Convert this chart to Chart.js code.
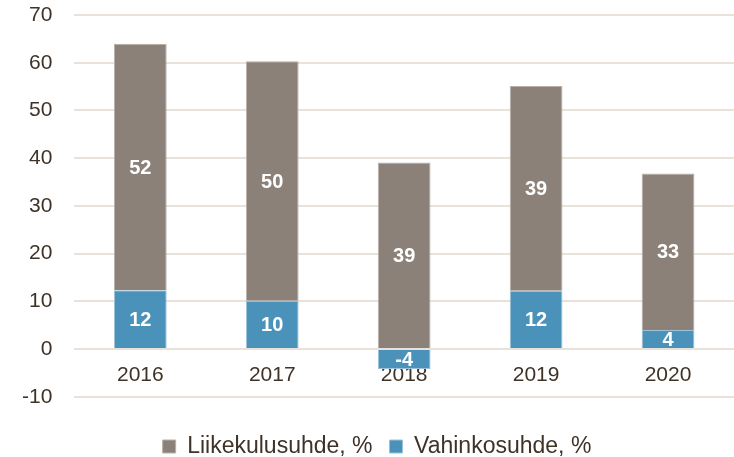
<!DOCTYPE html>
<html><head><meta charset="utf-8">
<script src="https://cdn.jsdelivr.net/npm/chart.js@4"></script>
<style>html,body{margin:0;padding:0;background:#fff}#w{width:734px;height:457px}</style>
</head><body><div id="w"><canvas id="c"></canvas></div>
<script>
const categories = ['2016','2017','2018','2019','2020'];
const liikekuluValues = [51.7, 50.2, 39.1, 42.9, 32.8];
const vahinkoValues = [12.3, 10.1, -4.2, 12.2, 4.0];
const liikekuluLabels = ['52','50','39','39','33'];
const vahinkoLabels = ['12','10','-4','12','4'];
const yTicks = [-10,0,10,20,30,40,50,60,70];

const textColor = '#3f3328';
const gridColor = '#e9e2db';
const FONT = '"Liberation Sans", Arial, sans-serif';

const labelPlugin = {
  id: 'segLabels',
  afterDatasetsDraw(chart) {
    const ctx = chart.ctx;
    ctx.save();
    ctx.fillStyle = '#ffffff';
    ctx.font = 'bold 20px ' + FONT;
    ctx.textAlign = 'center';
    ctx.textBaseline = 'middle';
    chart.data.datasets.forEach((ds, di) => {
      const meta = chart.getDatasetMeta(di);
      meta.data.forEach((bar, i) => {
        const p = bar.getProps(['x','y','base'], true);
        ctx.fillText(ds.segLabels[i], p.x, (p.y + p.base) / 2 + 1);
      });
    });
    ctx.restore();
  }
};

const legendShift = {
  id: 'legendShift',
  afterLayout(chart) {
    if (chart.legend) { chart.legend.left += 10; chart.legend.right += 10; }
  }
};

new Chart(document.getElementById('c'), {
  type: 'bar',
  data: {
    labels: categories,
    datasets: [
      { label: 'Vahinkosuhde, %', data: vahinkoValues, segLabels: vahinkoLabels,
        backgroundColor: '#4a92ba', borderColor: '#9cc3d9', borderWidth: 1 },
      { label: 'Liikekulusuhde, %', data: liikekuluValues, segLabels: liikekuluLabels,
        backgroundColor: '#8b8178', borderColor: '#b8b0a8', borderWidth: 1 }
    ]
  },
  options: {
    responsive: true, maintainAspectRatio: false, animation: false,
    layout: { padding: { top: 15, right: 0, left: 0, bottom: -11 } },
    datasets: { bar: { categoryPercentage: 1, barPercentage: 0.4 } },
    scales: {
      x: {
        stacked: true, position: { y: 0 }, z: 1,
        afterFit(axis) { axis.height = 0; },
        grid: { display: false }, border: { display: false },
        ticks: { color: textColor, font: { size: 21, family: FONT }, padding: 6 }
      },
      y: {
        stacked: true, min: -10, max: 70,
        afterBuildTicks(axis) { axis.ticks = yTicks.map(v => ({ value: v })); },
        afterFit(axis) { axis.paddingTop = 0; axis.paddingBottom = 0; },
        grid: { color: gridColor, lineWidth: 2, drawTicks: false },
        border: { display: false },
        ticks: { color: textColor, font: { size: 21, family: FONT }, padding: 22 }
      }
    },
    plugins: {
      tooltip: { enabled: false },
      legend: {
        position: 'bottom', reverse: true,
        title: { display: true, text: '', font: { size: 1 }, padding: { top: 20, bottom: 0 } },
        labels: { color: textColor, boxWidth: 13, boxHeight: 13, padding: 17,
          font: { size: 23, family: FONT } }
      }
    }
  },
  plugins: [labelPlugin, legendShift]
});
</script></body></html>
